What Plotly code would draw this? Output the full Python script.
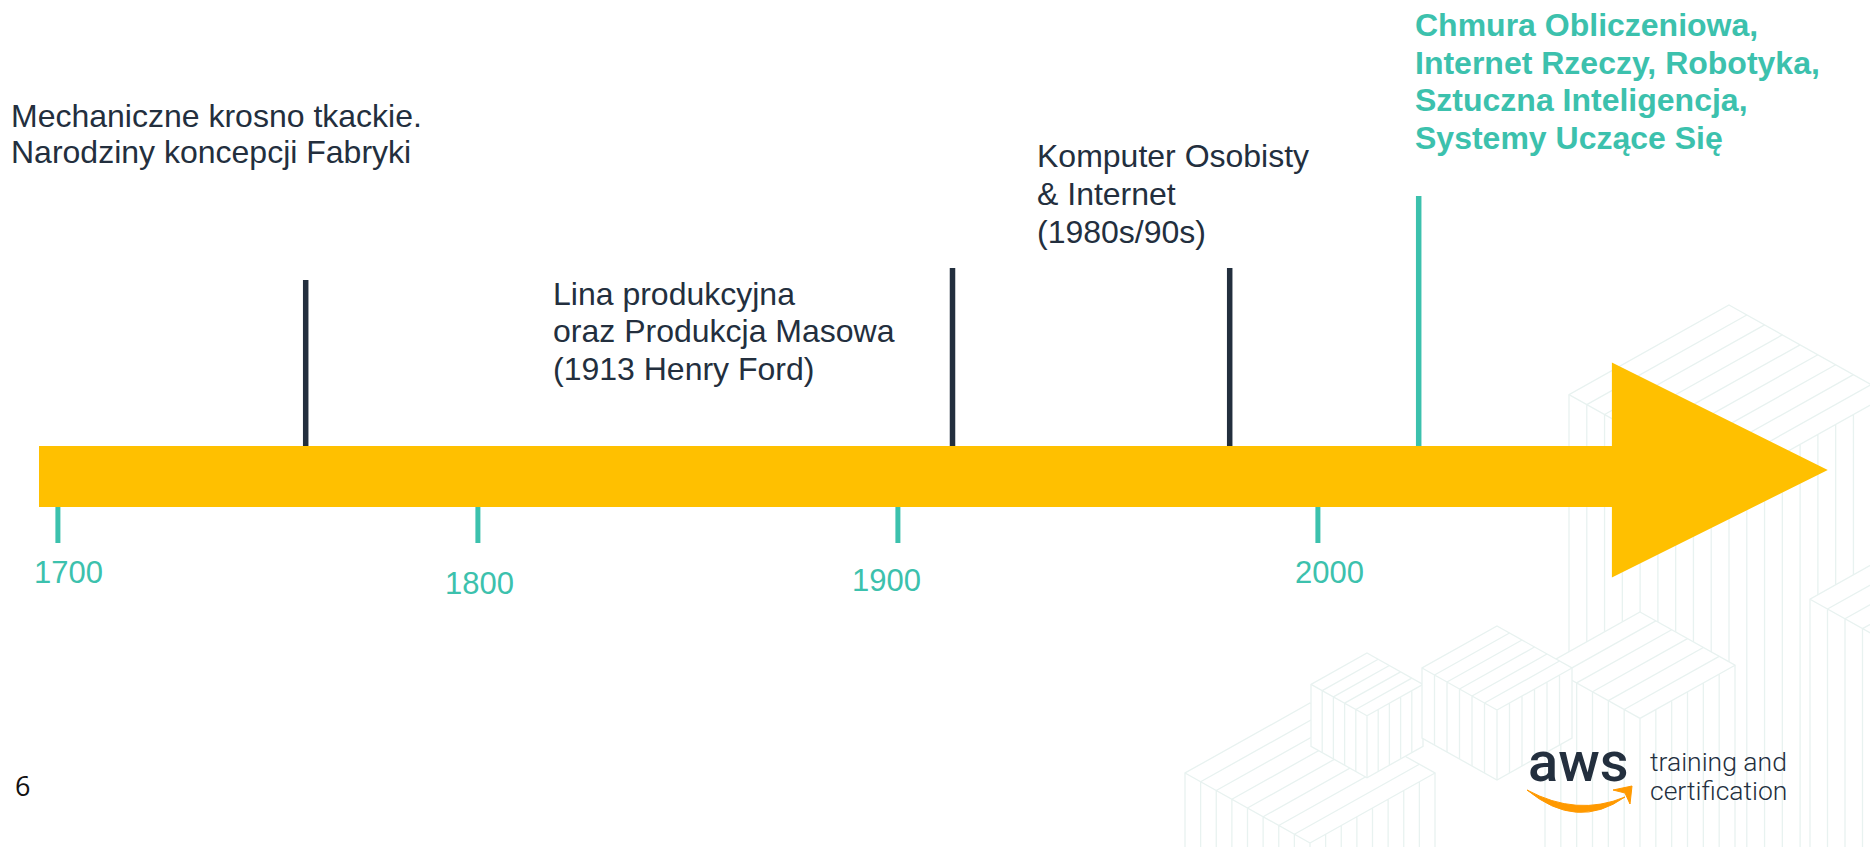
import plotly.graph_objects as go

# ---------------- data ----------------
tick_years = [1700, 1800, 1900, 2000]
tick_labels = ["1700", "1800", "1900", "2000"]

event_years = [1759, 1913, 1979, 2024]
event_texts = [
    ["Mechaniczne krosno tkackie.", "Narodziny koncepcji Fabryki"],
    ["Lina produkcyjna", "oraz Produkcja Masowa", "(1913 Henry Ford)"],
    ["Komputer Osobisty", "& Internet", "(1980s/90s)"],
    ["Chmura Obliczeniowa,", "Internet Rzeczy, Robotyka,",
     "Sztuczna Inteligencja,", "Systemy Uczące Się"],
]
timeline_start, timeline_head, timeline_tip = 1695.5, 2070.0, 2121.4

page_number = "6"
logo_word = "aws"
logo_lines = ["training and", "certification"]

# ---------------- styling / layout ----------------
W, H = 1870, 847
PX0, PX_PER_YEAR = 57.9, 4.2
X0 = 1700 - PX0 / PX_PER_YEAR
X1 = X0 + W / PX_PER_YEAR

DARK = "#232F3E"
TEAL = "#3CC1AD"
YELLOW = "#FFC000"
ORANGE = "#FF9900"
PATTERN = "#E8F2F0"
FONT = "Liberation Sans, Arial, sans-serif"
TEXT_SIZE = 32


def yr(p):
    """pixel x -> axis (year) value"""
    return X0 + p / PX_PER_YEAR


SHAFT_TOP, SHAFT_BOT = 446, 507
HEAD_TOP, HEAD_BOT, HEAD_MID = 362.5, 577.5, 470
TICK_BOT = 543
event_tops = [280, 268, 268, 196]
event_colors = [DARK, DARK, DARK, TEAL]
text_left = [10, 552, 1036, 1414]
text_baseline0 = [126.7, 305, 166.7, 36]
text_step = [36.5, 37.5, 38, 37.7]
text_bold = [False, False, False, True]
text_colors = [DARK, DARK, DARK, TEAL]
label_centers_y = [572, 583, 580, 572]
label_xshift = [11, 2, -11, 12]

fig = go.Figure()

# ---------------- background pattern (isometric boxes) ----------------
S = 0.56
boxes = [  # top vertex x, top vertex y, half width, height, stripes
    (1729, 305, 160, 560, 9),
    (1880, 560, 70, 400, 4),
    (1310, 703, 125, 200, 8),
    (1640, 612, 95, 300, 6),
    (1367, 653, 56, 62, 5),
    (1497, 626, 75, 70, 6),
]
shapes = []
for (tx, ty, w, h, n) in boxes:
    L = (tx - w, ty + w * S)
    R = (tx + w, ty + w * S)
    F = (tx, ty + 2 * w * S)
    hex_pts = [(tx, ty), R, (R[0], R[1] + h), (F[0], F[1] + h), (L[0], L[1] + h), L]
    path = "M " + " L ".join(f"{yr(x):.4f},{y:.2f}" for x, y in hex_pts) + " Z"
    shapes.append(dict(type="path", path=path, xref="x", yref="y", layer="below",
                       fillcolor="white", line=dict(color=PATTERN, width=1.3)))
    segs = [(L, F), (F, R), (F, (F[0], F[1] + h))]
    for k in range(1, n):
        t = k / n
        a = (L[0] + t * (F[0] - L[0]), L[1] + t * (F[1] - L[1]))
        b = (tx + t * (R[0] - tx), ty + t * (R[1] - ty))
        segs.append((a, b))
        c = (L[0] + t * (F[0] - L[0]), L[1] + t * (F[1] - L[1]))
        segs.append((c, (c[0], c[1] + h)))
        d = (F[0] + t * (R[0] - F[0]), F[1] + t * (R[1] - F[1]))
        segs.append((d, (d[0], d[1] + h)))
    p2 = " ".join(f"M {yr(a[0]):.4f},{a[1]:.2f} L {yr(b[0]):.4f},{b[1]:.2f}" for a, b in segs)
    shapes.append(dict(type="path", path=p2, xref="x", yref="y", layer="below",
                       line=dict(color=PATTERN, width=1.3)))

# ---------------- event lines ----------------
for yv, top, col in zip(event_years, event_tops, event_colors):
    fig.add_trace(go.Scatter(x=[yv, yv], y=[top, SHAFT_TOP + 1], mode="lines",
                             line=dict(color=col, width=5.5), hoverinfo="skip",
                             showlegend=False))

# ---------------- tick marks ----------------
tx_, ty_ = [], []
for t in tick_years:
    tx_ += [t, t, None]
    ty_ += [SHAFT_BOT - 1, TICK_BOT, None]
fig.add_trace(go.Scatter(x=tx_, y=ty_, mode="lines", line=dict(color=TEAL, width=5),
                         hoverinfo="skip", showlegend=False))

# ---------------- timeline arrow ----------------
fig.add_trace(go.Scatter(
    x=[timeline_start, timeline_head, timeline_head, timeline_tip,
       timeline_head, timeline_head, timeline_start, timeline_start],
    y=[SHAFT_TOP, SHAFT_TOP, HEAD_TOP, HEAD_MID, HEAD_BOT, SHAFT_BOT, SHAFT_BOT, SHAFT_TOP],
    mode="lines", fill="toself", fillcolor=YELLOW, line=dict(color=YELLOW, width=0),
    hoverinfo="skip", showlegend=False))

annotations = []
# tick labels
for t, lab, cy, xs in zip(tick_years, tick_labels, label_centers_y, label_xshift):
    annotations.append(dict(x=t, y=cy, xref="x", yref="y", text=lab, showarrow=False,
                            xanchor="center", yanchor="middle", xshift=xs,
                            font=dict(family=FONT, size=31, color=TEAL)))

# event descriptions
for lines, lx, b0, st, bold, col in zip(event_texts, text_left, text_baseline0,
                                         text_step, text_bold, text_colors):
    for i, line in enumerate(lines):
        base = b0 + i * st
        annotations.append(dict(x=yr(lx), y=base - 0.35 * TEXT_SIZE, xref="x", yref="y",
                                text=f"<b>{line}</b>" if bold else line,
                                showarrow=False, xanchor="left", yanchor="middle",
                                borderpad=0,
                                font=dict(family=FONT, size=TEXT_SIZE, color=col)))

# page number
annotations.append(dict(x=yr(22), y=785, xref="x", yref="y", text=page_number,
                        showarrow=False, xanchor="center", yanchor="middle",
                        font=dict(family="Open Sans, Noto Sans, sans-serif", size=27, color="#111111")))

# AWS logo
annotations.append(dict(x=yr(1578), y=762, xref="x", yref="y", text=logo_word,
                        showarrow=False, xanchor="center", yanchor="middle",
                        font=dict(family="Roboto, sans-serif", size=56, color=DARK, weight=500)))
for i, line in enumerate(logo_lines):
    annotations.append(dict(x=yr(1649), y=761.5 + i * 28.5, xref="x", yref="y", text=line,
                            showarrow=False, xanchor="left", yanchor="middle", borderpad=0,
                            font=dict(family="Roboto, sans-serif", size=26.5, color=DARK, weight=300)))

smile = (f"M {yr(1527)},790 Q {yr(1577)},831 {yr(1625)},797 "
         f"Q {yr(1577)},817 {yr(1527)},790 Z")
shapes.append(dict(type="path", path=smile, xref="x", yref="y", fillcolor=ORANGE,
                   line=dict(color=ORANGE, width=1), layer="above"))
hook = (f"M {yr(1613)},790 L {yr(1632)},786 L {yr(1630)},804 L {yr(1625)},793 Z")
shapes.append(dict(type="path", path=hook, xref="x", yref="y", fillcolor=ORANGE,
                   line=dict(color=ORANGE, width=1), layer="above"))

fig.update_layout(
    width=W, height=H, autosize=False,
    margin=dict(l=0, r=0, t=0, b=0, pad=0),
    paper_bgcolor="white", plot_bgcolor="white",
    xaxis=dict(range=[X0, X1], visible=False, fixedrange=True),
    yaxis=dict(range=[H, 0], visible=False, fixedrange=True),
    shapes=shapes, annotations=annotations, showlegend=False,
)

fig.write_html("out.html", config={"displayModeBar": False},
               post_script="document.body.style.margin='0';")
